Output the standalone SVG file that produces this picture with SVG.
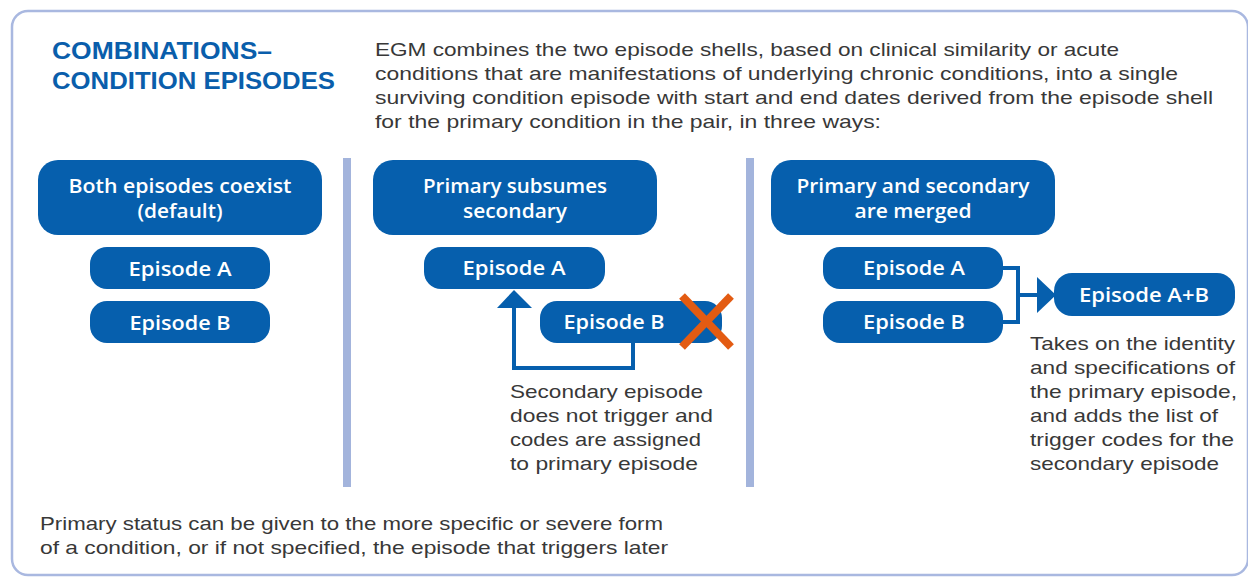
<svg xmlns="http://www.w3.org/2000/svg" width="1248" height="577" viewBox="0 0 1248 577">
<defs>
<style>
.frame{fill:#fff;stroke:#a9b8e0;stroke-width:2.5}
.div{fill:#a3b4dc}
.box{fill:#065fad}
.lbl{font-family:"Open Sans","Liberation Sans",sans-serif;font-weight:600;font-size:20px;fill:#fff;text-anchor:middle}
.body{font-family:"Liberation Sans",Arial,sans-serif;font-size:19px;fill:#383838}
.title{font-family:"Liberation Sans",Arial,sans-serif;font-weight:bold;font-size:23px;fill:#0a5eab}
.conn{fill:none;stroke:#065fad;stroke-width:4}
.arrow{fill:#065fad}
.x{stroke:#e35b12;stroke-width:8;stroke-linecap:butt}
</style>
</defs>
<rect class="frame" x="12" y="11" width="1236" height="564" rx="16"/>

<g id="title">
<text class="title" x="52" y="59" textLength="220" lengthAdjust="spacingAndGlyphs">COMBINATIONS–</text>
<text class="title" x="52" y="89" textLength="283" lengthAdjust="spacingAndGlyphs">CONDITION EPISODES</text>
</g>
<g id="intro" class="body">
<text x="375" y="56" textLength="744" lengthAdjust="spacingAndGlyphs">EGM combines the two episode shells, based on clinical similarity or acute</text>
<text x="375" y="80" textLength="803" lengthAdjust="spacingAndGlyphs">conditions that are manifestations of underlying chronic conditions, into a single</text>
<text x="375" y="104" textLength="838" lengthAdjust="spacingAndGlyphs">surviving condition episode with start and end dates derived from the episode shell</text>
<text x="375" y="128" textLength="506" lengthAdjust="spacingAndGlyphs">for the primary condition in the pair, in three ways:</text>
</g>

<rect class="div" x="343" y="158" width="8" height="329"/>
<rect class="div" x="746" y="158" width="8" height="329"/>

<!-- Column 1 -->
<g id="coexist">
<rect class="box" x="38" y="160" width="284" height="75" rx="20"/>
<text class="lbl" x="180" y="193" textLength="223" lengthAdjust="spacingAndGlyphs">Both episodes coexist</text>
<text class="lbl" x="180" y="218" textLength="85" lengthAdjust="spacingAndGlyphs">(default)</text>
</g>
<g id="c1-episodeA">
<rect class="box" x="90" y="247" width="180" height="42" rx="17"/>
<text class="lbl" x="180" y="276" textLength="103" lengthAdjust="spacingAndGlyphs">Episode A</text>
</g>
<g id="c1-episodeB">
<rect class="box" x="90" y="301" width="180" height="42" rx="17"/>
<text class="lbl" x="180" y="330" textLength="101" lengthAdjust="spacingAndGlyphs">Episode B</text>
</g>

<!-- Column 2 -->
<g id="subsumes">
<rect class="box" x="373" y="160" width="284" height="75" rx="20"/>
<text class="lbl" x="515" y="193" textLength="184" lengthAdjust="spacingAndGlyphs">Primary subsumes</text>
<text class="lbl" x="515" y="218" textLength="104" lengthAdjust="spacingAndGlyphs">secondary</text>
</g>
<g id="c2-episodeA">
<rect class="box" x="424" y="247" width="181" height="42" rx="17"/>
<text class="lbl" x="514" y="275" textLength="103" lengthAdjust="spacingAndGlyphs">Episode A</text>
</g>
<g id="c2-episodeB">
<rect class="box" x="540" y="301" width="182" height="42" rx="17"/>
<text class="lbl" x="614" y="329" textLength="101" lengthAdjust="spacingAndGlyphs">Episode B</text>
</g>
<g id="cross">
<line class="x" x1="682" y1="296" x2="731" y2="347"/>
<line class="x" x1="731" y1="296" x2="682" y2="347"/>
</g>
<g id="c2-note" class="body">
<text x="510" y="398" textLength="193" lengthAdjust="spacingAndGlyphs">Secondary episode</text>
<text x="510" y="422" textLength="203" lengthAdjust="spacingAndGlyphs">does not trigger and</text>
<text x="510" y="446" textLength="191" lengthAdjust="spacingAndGlyphs">codes are assigned</text>
<text x="510" y="470" textLength="188" lengthAdjust="spacingAndGlyphs">to primary episode</text>
</g>

<!-- Column 3 -->
<g id="merged">
<rect class="box" x="771" y="160" width="284" height="75" rx="20"/>
<text class="lbl" x="913" y="193" textLength="233" lengthAdjust="spacingAndGlyphs">Primary and secondary</text>
<text class="lbl" x="913" y="218" textLength="117" lengthAdjust="spacingAndGlyphs">are merged</text>
</g>
<g id="c3-episodeA">
<rect class="box" x="823" y="247" width="180" height="42" rx="17"/>
<text class="lbl" x="914" y="275" textLength="102" lengthAdjust="spacingAndGlyphs">Episode A</text>
</g>
<g id="c3-episodeB">
<rect class="box" x="823" y="301" width="180" height="42" rx="17"/>
<text class="lbl" x="914" y="329" textLength="102" lengthAdjust="spacingAndGlyphs">Episode B</text>
</g>
<g id="c3-episodeAB">
<rect class="box" x="1054" y="273" width="181" height="43" rx="18"/>
<text class="lbl" x="1144" y="302" textLength="130" lengthAdjust="spacingAndGlyphs">Episode A+B</text>
</g>
<g id="c3-note" class="body">
<text x="1030" y="350" textLength="205" lengthAdjust="spacingAndGlyphs">Takes on the identity</text>
<text x="1030" y="374" textLength="205" lengthAdjust="spacingAndGlyphs">and specifications of</text>
<text x="1030" y="398" textLength="207" lengthAdjust="spacingAndGlyphs">the primary episode,</text>
<text x="1030" y="422" textLength="188" lengthAdjust="spacingAndGlyphs">and adds the list of</text>
<text x="1030" y="446" textLength="204" lengthAdjust="spacingAndGlyphs">trigger codes for the</text>
<text x="1030" y="470" textLength="189" lengthAdjust="spacingAndGlyphs">secondary episode</text>
</g>

<g id="connectors">
<polyline class="conn" points="633,343 633,368 514,368 514,306"/>
<polygon class="arrow" points="514,290 497,308 532,308"/>
<polyline class="conn" points="1003,268 1018,268 1018,322 1003,322"/>
<line class="conn" x1="1018" y1="295" x2="1039" y2="295"/>
<polygon class="arrow" points="1037,277 1056,295 1037,313"/>
</g>

<g id="footnote" class="body">
<text x="40" y="530" textLength="623" lengthAdjust="spacingAndGlyphs">Primary status can be given to the more specific or severe form</text>
<text x="40" y="554" textLength="628" lengthAdjust="spacingAndGlyphs">of a condition, or if not specified, the episode that triggers later</text>
</g>
</svg>
